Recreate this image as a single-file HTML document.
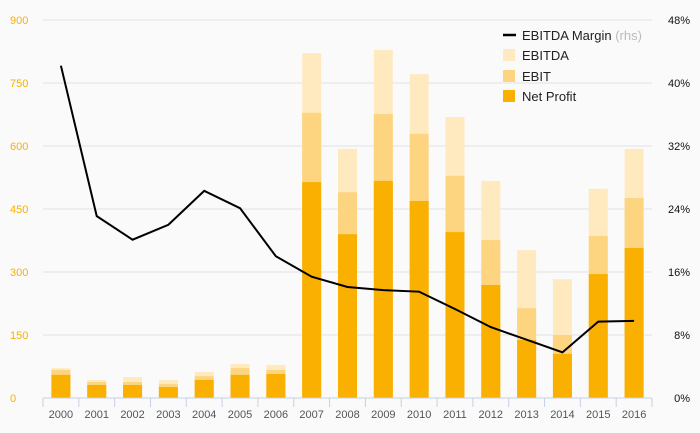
<!DOCTYPE html>
<html><head><meta charset="utf-8"><style>
body{margin:0;background:#fafafa;}
svg{display:block;font-family:"Liberation Sans",sans-serif;}
</style></head><body>
<svg id="chart" width="700" height="433">
<rect width="700" height="433" fill="#fafafa"/>
<g id="grid"></g><g id="bars"></g><g id="line"></g><g id="axes"></g>
<g font-size="13" fill="#222">
<line x1="503" y1="35" x2="516" y2="35" stroke="#000" stroke-width="2.5"/>
<text x="522" y="40">EBITDA Margin <tspan fill="#bbb">(rhs)</tspan></text>
<rect x="503" y="49" width="12" height="12" fill="#ffeac0"/>
<text x="522" y="60">EBITDA</text>
<rect x="503" y="70" width="12" height="12" fill="#fdd581"/>
<text x="522" y="81">EBIT</text>
<rect x="503" y="90" width="12" height="12" fill="#f9b000"/>
<text x="522" y="101">Net Profit</text>
</g>
</svg>
<script>
const years=["2000","2001","2002","2003","2004","2005","2006","2007","2008","2009","2010","2011","2012","2013","2014","2015","2016"];
const netProfit=[55,31,31,26,43,55,57,514,390,517,469,395,269,138,105,295,357];
const ebit=[67,38,38,33,52,71,67,679,490,676,629,529,376,214,150,386,476];
const ebitda=[71,43,50,43,62,81,79,821,593,829,771,669,517,352,283,498,593];
const margin=[42.2,23.1,20.1,22,26.3,24.1,18.0,15.4,14.1,13.7,13.5,11.3,9.0,7.4,5.8,9.7,9.8];
const leftTicks=[0,150,300,450,600,750,900];
const rightTicks=[0,8,16,24,32,40,48];
const NS="http://www.w3.org/2000/svg";
const plotTop=20,plotBot=398,x0=43,x1=652;
const yL=v=>plotBot-(v/900)*(plotBot-plotTop);
const yR=v=>plotBot-(v/48)*(plotBot-plotTop);
const step=(x1-x0)/years.length;
const xC=i=>x0+step*(i+0.5);
function mk(t,a,p){const e=document.createElementNS(NS,t);for(const k in a)e.setAttribute(k,a[k]);p.appendChild(e);return e;}
const grid=document.getElementById('grid'),axes=document.getElementById('axes'),bars=document.getElementById('bars'),line=document.getElementById('line');
leftTicks.forEach((v,i)=>{
 if(v>0){const g=mk('line',{x1:x0,x2:x1,y1:yL(v),y2:yL(v),stroke:'#e3e3e3'},grid);
 
 }
 const t=mk('text',{x:10,y:yL(v)+4,fill:'#f9b000','font-size':11},axes);t.textContent=v;
 
 
});
rightTicks.forEach(v=>{
 const t=mk('text',{x:690,y:yR(v)+4,fill:'#111','font-size':11,'text-anchor':'end'},axes);t.textContent=v+'%';
 
 
});
const ax=mk('line',{x1:x0,x2:x1,y1:plotBot,y2:plotBot,stroke:'#c5d0e6'},axes);


for(let i=0;i<=years.length;i++){const tk=mk('line',{x1:x0+step*i,x2:x0+step*i,y1:plotBot,y2:plotBot+9,stroke:'#c5d0e6'},axes);
 
 }
const bw=19;
years.forEach((y,i)=>{
 const t=mk('text',{x:xC(i),y:418,fill:'#555','font-size':11,'text-anchor':'middle'},axes);t.textContent=y;
 
 
 const a=mk('rect',{x:xC(i)-bw/2,y:yL(ebitda[i]),width:bw,height:yL(0)-yL(ebitda[i]),fill:'#ffeac0'},bars);
 
 
 const b=mk('rect',{x:xC(i)-bw/2,y:yL(ebit[i]),width:bw,height:yL(0)-yL(ebit[i]),fill:'#fdd581'},bars);
 
 
 const c=mk('rect',{x:xC(i)-bw/2,y:yL(netProfit[i]),width:bw,height:yL(0)-yL(netProfit[i]),fill:'#f9b000'},bars);
 
 
});
const pl=mk('polyline',{points:margin.map((m,i)=>xC(i)+','+yR(m)).join(' '),fill:'none',stroke:'#000','stroke-width':2},line);


</script>
</body></html>
